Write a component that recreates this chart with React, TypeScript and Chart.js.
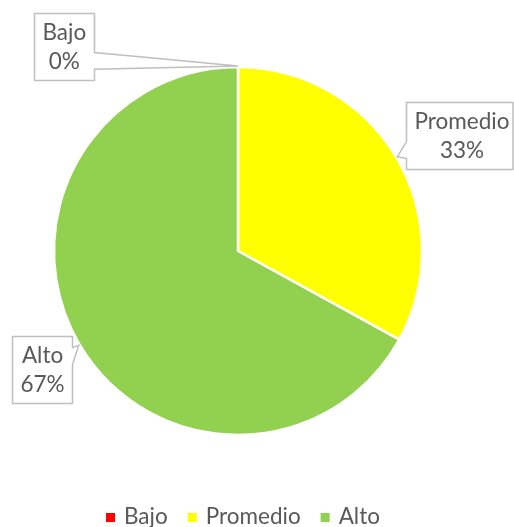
import React, { useEffect, useRef } from "react";
import { Chart, registerables } from "chart.js";

Chart.register(...registerables);

// ---- data ----
const categories: string[] = ["Bajo", "Promedio", "Alto"];
const values: number[] = [0, 33, 67];
const colors: string[] = ["#FF0000", "#FFFF00", "#92D050"];

// ---- styling / layout ----
const FONT_FAMILY = "Lato, 'Open Sans', sans-serif";
const FONT_SIZE = 22.5;
const TEXT_COLOR = "#595959";
const CALLOUT_BORDER = "#BFBFBF";
const CALLOUT_PAD = 8;
const CALLOUT_H = 67;
// callout box (left, top) relative to the slice tip
const CALLOUT_OFFSETS: [number, number][] = [
  [-204, -53],
  [9, -55],
  [-67, -9],
];

function drawCallout(
  ctx: CanvasRenderingContext2D,
  x: number,
  y: number,
  w: number,
  h: number,
  tx: number,
  ty: number
) {
  const cx = x + w / 2;
  const cy = y + h / 2;
  const dxPos = tx - cx;
  const dyPos = ty - cy;
  const dx = dxPos * h;
  const dy = dyPos * w;
  const inside = Math.abs(dxPos) <= w / 2 && Math.abs(dyPos) <= h / 2;
  let side = "";
  if (!inside) {
    if (Math.abs(dy) > Math.abs(dx)) side = dy > 0 ? "bottom" : "top";
    else side = dx > 0 ? "right" : "left";
  }
  ctx.beginPath();
  ctx.moveTo(x, y);
  if (side === "top") {
    const [a, b] = dxPos < 0 ? [2 / 12, 5 / 12] : [7 / 12, 10 / 12];
    ctx.lineTo(x + w * a, y);
    ctx.lineTo(tx, ty);
    ctx.lineTo(x + w * b, y);
  }
  ctx.lineTo(x + w, y);
  if (side === "right") {
    const [a, b] = dyPos < 0 ? [2 / 12, 5 / 12] : [7 / 12, 10 / 12];
    ctx.lineTo(x + w, y + h * a);
    ctx.lineTo(tx, ty);
    ctx.lineTo(x + w, y + h * b);
  }
  ctx.lineTo(x + w, y + h);
  if (side === "bottom") {
    const [a, b] = dxPos < 0 ? [5 / 12, 2 / 12] : [10 / 12, 7 / 12];
    ctx.lineTo(x + w * a, y + h);
    ctx.lineTo(tx, ty);
    ctx.lineTo(x + w * b, y + h);
  }
  ctx.lineTo(x, y + h);
  if (side === "left") {
    const [a, b] = dyPos < 0 ? [5 / 12, 2 / 12] : [10 / 12, 7 / 12];
    ctx.lineTo(x, y + h * a);
    ctx.lineTo(tx, ty);
    ctx.lineTo(x, y + h * b);
  }
  ctx.closePath();
  ctx.fillStyle = "#FFFFFF";
  ctx.fill();
  ctx.lineWidth = 1.5;
  ctx.strokeStyle = CALLOUT_BORDER;
  ctx.lineJoin = "miter";
  ctx.stroke();
}

const calloutPlugin = {
  id: "callouts",
  afterDatasetsDraw(chart: any) {
    const ctx: CanvasRenderingContext2D = chart.ctx;
    const meta = chart.getDatasetMeta(0);
    const data: number[] = chart.data.datasets[0].data;
    const total = data.reduce((s, v) => s + v, 0);
    ctx.save();
    ctx.font = `${FONT_SIZE}px ${FONT_FAMILY}`;
    meta.data.forEach((arc: any, i: number) => {
      const p = arc.getProps(["x", "y", "startAngle", "endAngle", "outerRadius"], true);
      const mid = (p.startAngle + p.endAngle) / 2;
      const r = p.outerRadius + 1;
      const tx = p.x + Math.cos(mid) * r;
      const ty = p.y + Math.sin(mid) * r;
      const lines = [
        String(chart.data.labels[i]),
        Math.round((data[i] / total) * 100) + "%",
      ];
      const maxW = Math.max(...lines.map((l) => ctx.measureText(l).width));
      const [ox, oy] = CALLOUT_OFFSETS[i];
      const left = Math.round(tx + ox) + 0.5;
      const top = Math.round(ty + oy) + 0.5;
      let w = Math.round(maxW + 2 * CALLOUT_PAD);
      if (left + w > chart.width - 1) w = Math.floor(chart.width - 1 - left) + 0.5;
      drawCallout(ctx, left, top, w, CALLOUT_H, tx, ty);
      ctx.fillStyle = TEXT_COLOR;
      ctx.textAlign = "center";
      ctx.textBaseline = "alphabetic";
      const textCx = left + CALLOUT_PAD + maxW / 2;
      const cy = top + CALLOUT_H / 2;
      ctx.fillText(lines[0], textCx, cy - 7.5);
      ctx.fillText(lines[1], textCx, cy + 22);
    });
    ctx.restore();
  },
};

const legendPlugin = {
  id: "bottomLegend",
  afterDraw(chart: any) {
    const ctx: CanvasRenderingContext2D = chart.ctx;
    const ds = chart.data.datasets[0];
    const labels: string[] = chart.data.labels;
    const sq = 9;
    const gapText = 9;
    const gapItem = 20;
    ctx.save();
    ctx.font = `${FONT_SIZE}px ${FONT_FAMILY}`;
    const widths = labels.map((l) => ctx.measureText(l).width);
    const total =
      widths.reduce((s, w) => s + sq + gapText + w, 0) + gapItem * (labels.length - 1);
    const area = chart.chartArea;
    const centerX = (area.left + area.right) / 2 + 4.5;
    let x = Math.round(centerX - total / 2);
    const baseline = 524;
    labels.forEach((l, i) => {
      ctx.fillStyle = ds.backgroundColor[i];
      ctx.fillRect(x, baseline - 11, sq, sq);
      x += sq + gapText;
      ctx.fillStyle = TEXT_COLOR;
      ctx.textAlign = "left";
      ctx.textBaseline = "alphabetic";
      ctx.fillText(l, x, baseline);
      x += widths[i] + gapItem;
    });
    ctx.restore();
  },
};

export default function App() {
  const ref = useRef<HTMLCanvasElement>(null);
  useEffect(() => {
    if (!ref.current) return;
    const chart = new Chart(ref.current, {
      type: "pie",
      data: {
        labels: categories,
        datasets: [
          {
            data: values,
            backgroundColor: colors,
            borderColor: "#FFFFFF",
            borderWidth: 2.5,
            radius: 184,
            hoverOffset: 0,
            clip: false,
          } as any,
        ],
      },
      options: {
        responsive: false,
        animation: false,
        events: [],
        layout: { padding: { left: 0, right: 38, top: 0, bottom: 25 } },
        plugins: {
          legend: { display: false },
          tooltip: { enabled: false },
        },
      },
      plugins: [calloutPlugin, legendPlugin],
    });
    return () => chart.destroy();
  }, []);
  return (
    <div
      style={{
        position: "fixed",
        left: 0,
        top: 0,
        width: 514,
        height: 527,
        background: "#FFFFFF",
        overflow: "hidden",
      }}
    >
      <canvas ref={ref} width={514} height={527} style={{ display: "block" }} />
    </div>
  );
}
